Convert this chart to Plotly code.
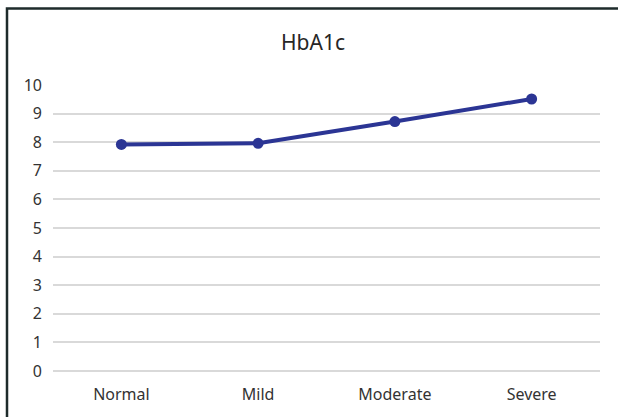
import plotly.graph_objects as go

categories = ["Normal", "Mild", "Moderate", "Severe"]
hba1c = [7.92, 7.96, 8.72, 9.51]
y_ticks = [0, 1, 2, 3, 4, 5, 6, 7, 8, 9, 10]

W, H = 618, 417
L, R, T, B = 53, 18, 85, 44
pw, ph = W - L - R, H - T - B

fig = go.Figure()
fig.add_trace(go.Scatter(
    x=categories, y=hba1c, mode="lines+markers",
    line=dict(color="#2B3594", width=4),
    marker=dict(color="#2B3594", size=11),
    showlegend=False,
))

fig.update_layout(
    width=W, height=H,
    margin=dict(l=L, r=R, t=T, b=B, pad=0),
    paper_bgcolor="white", plot_bgcolor="white",
    font=dict(family="Noto Sans", color="#333333", size=16),
    title=dict(text="HbA1c", x=313 / W, xanchor="center", xref="container",
               y=1 - 43 / H, yanchor="middle", yref="container",
               font=dict(size=21, color="#262626")),
    xaxis=dict(showgrid=False, showline=False, zeroline=False, ticks="",
               range=[-0.5, 3.5], ticklabelstandoff=12,
               tickfont=dict(size=16, color="#333333")),
    yaxis=dict(range=[-0.001, 10], tickvals=y_ticks, showgrid=True, gridcolor="#d9d9d9",
               gridwidth=1.5, zeroline=True, zerolinecolor="#d9d9d9", zerolinewidth=1.5,
               showline=False, ticks="",
               ticklabelstandoff=10, tickfont=dict(size=16, color="#333333")),
    shapes=[dict(type="rect", xref="paper", yref="paper",
                 x0=(7 - L) / pw, x1=(W + 5 - L) / pw,
                 y0=(H - B - (H + 5)) / ph, y1=(H - B - 8) / ph,
                 line=dict(color="#1e2b2b", width=2.5), fillcolor="rgba(0,0,0,0)",
                 layer="above")],
)

fig.write_html("out.html")
